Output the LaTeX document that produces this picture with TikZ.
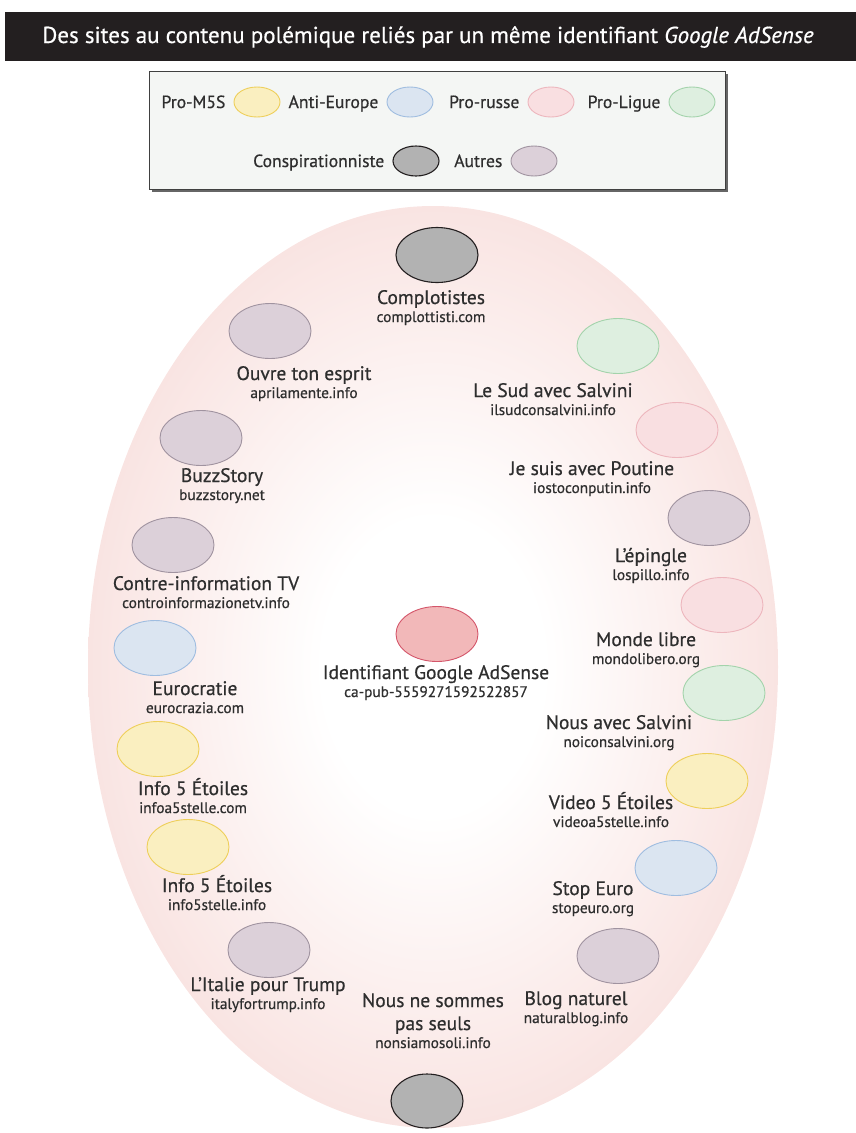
\documentclass[tikz,border=0pt]{standalone}
\usepackage{fontspec}
\setmainfont{PT Sans}[FakeBold=0.6]
\usetikzlibrary{shapes.geometric,positioning}

\definecolor{hdr}{HTML}{231F20}
\definecolor{txt}{HTML}{2E2E2E}
\definecolor{legbg}{HTML}{F4F6F4}
\definecolor{eggpink}{HTML}{F9E4E2}
\definecolor{m5sfill}{HTML}{FAEFC0}
\definecolor{m5sline}{HTML}{EECF5A}
\definecolor{eurfill}{HTML}{DBE5F1}
\definecolor{eurline}{HTML}{9FBDE0}
\definecolor{rusfill}{HTML}{F9DFE1}
\definecolor{rusline}{HTML}{EDB6BD}
\definecolor{ligfill}{HTML}{DEEFE0}
\definecolor{ligline}{HTML}{A3D3AB}
\definecolor{cspfill}{HTML}{B2B2B2}
\definecolor{cspline}{HTML}{231F20}
\definecolor{autfill}{HTML}{DCD0D9}
\definecolor{autline}{HTML}{A093A0}
\definecolor{adsfill}{HTML}{F2B8B9}
\definecolor{adsline}{HTML}{D4566A}

\pgfdeclareradialshading{eggshade}{\pgfpoint{0bp}{0bp}}{color(0bp)=(white); color(8bp)=(white); color(25bp)=(eggpink); color(50bp)=(eggpink)}

\begin{document}
\begin{tikzpicture}[x=1pt,y=-1pt,
blob/.style={ellipse,inner sep=0pt,minimum width=82pt,minimum height=55pt,line width=0.9pt},
small/.style={minimum width=46pt,minimum height=30pt},
mcinq/.style={draw=m5sline,fill=m5sfill},
europe/.style={draw=eurline,fill=eurfill},
russe/.style={draw=rusline,fill=rusfill},
ligue/.style={draw=ligline,fill=ligfill},
consp/.style={draw=cspline,fill=cspfill,line width=1.1pt},
autre/.style={draw=autline,fill=autfill},
adsense/.style={draw=adsline,fill=adsfill},
ttl/.style={anchor=base,inner sep=0pt,text=txt,font=\fontsize{19.5}{23}\selectfont},
lnk/.style={anchor=base,inner sep=0pt,text=txt,font=\fontsize{15.3}{18}\selectfont},
legtxt/.style={anchor=base east,inner sep=0pt,text=txt,font=\fontsize{17.6}{20}\selectfont}]
\useasboundingbox (0,0) rectangle (856,1133);

% bandeau
\fill[hdr] (5,12) rectangle (856,61);
\node[text=white,font=\fontsize{23}{26}\selectfont] (titre) at (428,37)
  {Des sites au contenu polémique reliés par un même identifiant \textit{Google AdSense}};

% legende
\fill[black!60] (152,74) rectangle (728,192);
\draw[draw=black!75,fill=legbg,line width=0.8pt] (149,71) rectangle (725,189);
\foreach \nm/\lbl/\ex/\ey/\sty in {m5s/Pro-M5S/257/102/mcinq, eur/Anti-Europe/410/102/europe,
  rus/Pro-russe/551/102/russe, lig/Pro-Ligue/692/102/ligue,
  csp/Conspirationniste/416/161/consp, aut/Autres/534/161/autre}
{
    \node[blob,small,\sty] (l\nm) at (\ex,\ey) {};
    \node[legtxt] (t\nm) at ([xshift=-8pt,yshift=-6pt]l\nm.west) {\lbl};
}

% fond
\shade[shading=eggshade] (433,667) ellipse [x radius=345pt, y radius=461pt];

% sites
\foreach \nm/\ex/\ey/\sty/\lx/\ly/\ttl/\url in {
  cmp/437/255/consp/431/304/Complotistes/complottisti.com,
  ouv/270/331/autre/304/380/Ouvre ton esprit/aprilamente.info,
  sud/618/346/ligue/553/397/Le Sud avec Salvini/ilsudconsalvini.info,
  buz/201/438/autre/222/482/BuzzStory/buzzstory.net,
  pou/677/430/russe/592/475/Je suis avec Poutine/iostoconputin.info,
  cit/173/545/autre/206/590/Contre-information TV/controinformazionetv.info,
  epi/709/518/autre/651/562/L’épingle/lospillo.info,
  eur/155/648/europe/195/695/Eurocratie/eurocrazia.com,
  mon/722/605/russe/646/646/Monde libre/mondolibero.org,
  ads/437/634/adsense/436/679/Identifiant Google AdSense/ca-pub-5559271592522857,
  nas/724/693/ligue/619/729/Nous avec Salvini/noiconsalvini.org,
  ifa/158/749/mcinq/193/795/Info 5 Étoiles/infoa5stelle.com,
  vid/707/781/mcinq/611/809/Video 5 Étoiles/videoa5stelle.info,
  ifb/188/847/mcinq/217/892/Info 5 Étoiles/info5stelle.info,
  sto/676/868/europe/593/895/Stop Euro/stopeuro.org,
  ita/269/950/autre/268/991/L’Italie pour Trump/italyfortrump.info,
  blo/618/956/autre/576/1005/Blog naturel/naturalblog.info}
{
    \node[blob,\sty] (\nm) at (\ex,\ey) {};
    \node[ttl] (t\nm) at (\lx,\ly) {\ttl};
    \node[lnk] (u\nm) at ([yshift=-18pt]t\nm.base) {\url};
}

% le dernier, sur deux lignes
\node[ttl] (tnss) at (433,1007) {Nous ne sommes};
\node[ttl] (tnsb) at ([yshift=-23pt]tnss.base) {pas seuls};
\node[lnk] (unss) at ([yshift=-18pt]tnsb.base) {nonsiamosoli.info};
\node[blob,consp,minimum width=72pt,minimum height=54pt] (nss) at (427,1101) {};
\end{tikzpicture}
\end{document}
